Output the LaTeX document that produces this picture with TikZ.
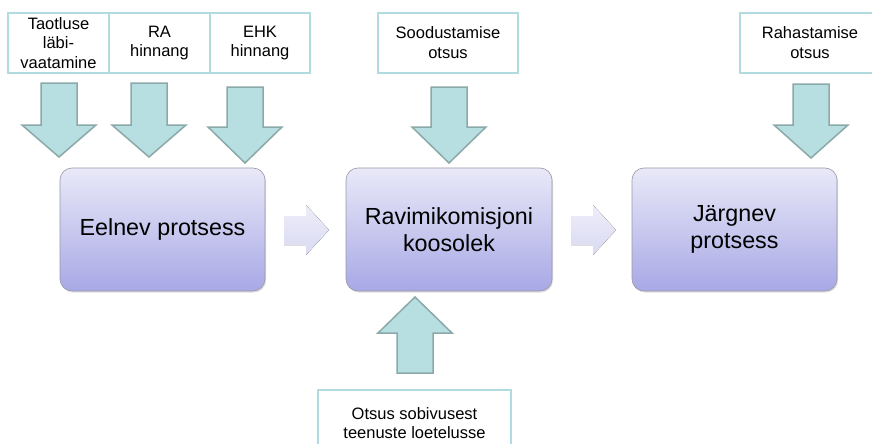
\documentclass[tikz,border=0pt]{standalone}
\usepackage{fontspec}
\setmainfont{Liberation Sans}
\usetikzlibrary{shadows}
\definecolor{arrowfill}{HTML}{B7DEE0}
\definecolor{arrowline}{HTML}{8CA9A9}
\definecolor{boxline}{HTML}{B2DBDF}
\definecolor{proctop}{HTML}{E9E9F8}
\definecolor{procbot}{HTML}{A8A8E6}
\definecolor{procline}{HTML}{9898A8}
\definecolor{smalltop}{HTML}{EDEDF9}
\definecolor{smallbot}{HTML}{DADAF2}
\newcommand{\dnarrow}[4]{%
  \draw[blockarrow] ({#1-18},#2) -- ({#1+18},#2) -- ({#1+18},#3) -- ({#1+37},#3)
    -- (#1,#4) -- ({#1-37},#3) -- ({#1-18},#3) -- cycle;}
\newcommand{\rtarrow}[1]{%
  \fill[top color=smalltop, bottom color=smallbot] (#1,216) -- ({#1+22},216) -- ({#1+22},205)
    -- ({#1+45},230) -- ({#1+22},255) -- ({#1+22},245) -- (#1,245) -- cycle;}
\tikzset{
  inbox/.style={draw=boxline, line width=1.5pt, fill=white, minimum height=60pt,
    align=center, font=\fontsize{16.5}{19.8}\selectfont, inner sep=0pt},
  proc/.style={draw=procline, line width=0.6pt, rounded corners=12pt,
    top color=proctop, bottom color=procbot, minimum width=205pt, minimum height=123pt,
    align=center, font=\fontsize{23.3}{27}\selectfont, inner sep=0pt,
    drop shadow={opacity=0.25, shadow xshift=1pt, shadow yshift=-1.5pt}},
  blockarrow/.style={fill=arrowfill, draw=arrowline, line width=1.5pt, line join=miter},
}
\begin{document}
\begin{tikzpicture}[x=1pt,y=-1pt]
\useasboundingbox (0,0) rectangle (872,444);
\clip (0,0) rectangle (872,444);
\fill[white] (0,0) rectangle (872,444);

\node[inbox, minimum width=101pt] (t1) at (58.5,43) {Taotluse\\läbi-\\vaatamine};
\node[inbox, minimum width=101pt] (t2) at (159.5,43) {RA\\hinnang};
\node[inbox, minimum width=100pt] (t3) at (260,43) {EHK\\hinnang};
\node[inbox, minimum width=140pt] (t4) at (448,43) {Soodustamise\\otsus};
\node[inbox, minimum width=140pt] (t5) at (810,43) {Rahastamise\\otsus};
\node[inbox, minimum width=193pt, minimum height=66pt] (b1) at (414.5,423) {Otsus sobivusest\\teenuste loetelusse};

\node[proc] (p1) at (162.5,229.5) {Eelnev protsess};
\node[proc, minimum width=206pt] (p2) at (449,229.5) {Ravimikomisjoni\\koosolek};
\node[proc] (p3) at (734.5,229.5) {Järgnev\\protsess};

\dnarrow{59}{83}{125}{157}
\dnarrow{149}{83}{125}{157}
\dnarrow{245}{87}{127}{163}
\dnarrow{449}{87}{127}{163}
\dnarrow{811}{84}{125}{158}
\dnarrow{415}{373}{333}{297}

\rtarrow{284}
\rtarrow{571}
\end{tikzpicture}
\end{document}
